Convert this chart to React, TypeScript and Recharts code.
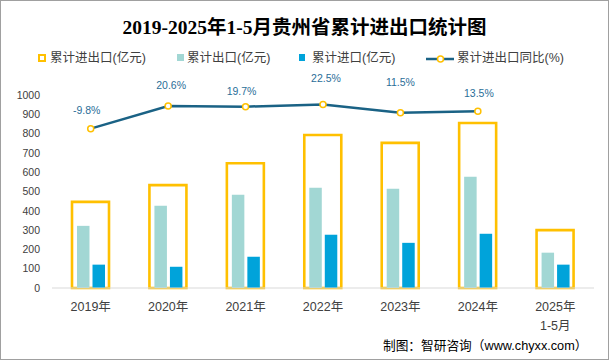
import React from 'react';
import { ComposedChart, Bar, Line, XAxis, YAxis, LabelList } from 'recharts';

const categories = ['2019年', '2020年', '2021年', '2022年', '2023年', '2024年', '2025年\n1-5月'];
const totalValues = [446, 533, 646, 793, 752, 855, 300];
const exportValues = [322, 426, 483, 519, 514, 576, 183];
const importValues = [121, 110, 162, 276, 234, 281, 121];
const yoyValues: (number | null)[] = [-9.8, 20.6, 19.7, 22.5, 11.5, 13.5, null];
const yTicks = [0, 100, 200, 300, 400, 500, 600, 700, 800, 900, 1000];

// label placement tweaks (style only)
const labelDx = [-4, 3, -4, 3, 0, 1, 0];
const labelDy = [-19, -21, -16, -27, -31, -18, 0];

const data = categories.map((c, i) => ({
  category: c,
  total: totalValues[i],
  exp: exportValues[i],
  imp: importValues[i],
  yoy: yoyValues[i],
}));

const FONT = '"Liberation Sans", "Noto Sans CJK SC", sans-serif';
const YELLOW = '#FFC000';
const TEAL = '#A2D7D4';
const BLUE = '#00A3DA';
const LINE = '#1A6285';
const LABEL = '#2A6E98';
const TEXT = '#404040';

const XTick = (props: any) => {
  const { x, payload } = props;
  const lines = String(payload.value).split('\n');
  return (
    <text x={x} y={288} textAnchor="middle" fill={TEXT} fontSize={12.5} fontFamily={FONT}>
      {lines.map((l, i) => (
        <tspan key={i} x={x} dy={i === 0 ? 23 : 19}>
          {l}
        </tspan>
      ))}
    </text>
  );
};

const YoyLabel = (props: any) => {
  const { x, y, value, index } = props;
  if (value === null || value === undefined) return null;
  return (
    <text
      x={x + (labelDx[index] || 0)}
      y={y + (labelDy[index] || 0)}
      textAnchor="middle"
      dominantBaseline="central"
      fill={LABEL}
      fontSize={10.5}
      fontFamily={FONT}
    >
      {`${value}%`}
    </text>
  );
};

const legendText: React.CSSProperties = {
  position: 'absolute',
  top: 49,
  fontSize: 12.5,
  lineHeight: '18px',
  color: TEXT,
  fontFamily: FONT,
  whiteSpace: 'nowrap',
};

export default function App() {
  return (
    <div style={{ position: 'absolute', left: 0, top: 0, width: 609, height: 360, background: '#fff', fontFamily: FONT }}>
      <div
        style={{
          position: 'absolute',
          left: 0,
          top: 17,
          width: 609,
          textAlign: 'center',
          fontSize: 19.5,
          lineHeight: '22px',
          fontWeight: 'bold',
          color: '#000',
          fontFamily: '"Liberation Serif", "Noto Sans CJK SC", serif',
        }}
      >
        2019-2025年1-5月贵州省累计进出口统计图
      </div>

      {/* legend */}
      <div style={{ position: 'absolute', left: 38, top: 54, width: 4, height: 4, border: `2px solid ${YELLOW}`, boxSizing: 'content-box' }} />
      <div style={{ ...legendText, left: 50 }}>累计进出口(亿元)</div>
      <div style={{ position: 'absolute', left: 177, top: 54, width: 7, height: 7, background: TEAL }} />
      <div style={{ ...legendText, left: 187 }}>累计出口(亿元)</div>
      <div style={{ position: 'absolute', left: 299, top: 54, width: 6, height: 7, background: BLUE }} />
      <div style={{ ...legendText, left: 312 }}>累计进口(亿元)</div>
      <svg style={{ position: 'absolute', left: 425, top: 52 }} width={30} height={14}>
        <line x1={1} y1={7} x2={29} y2={7} stroke={LINE} strokeWidth={2.5} />
        <circle cx={15.5} cy={7} r={3} fill="#fff" stroke={YELLOW} strokeWidth={1.5} />
      </svg>
      <div style={{ ...legendText, left: 457 }}>累计进出口同比(%)</div>

      <div style={{ position: 'absolute', left: 0, top: 0 }}>
        <ComposedChart
          width={609}
          height={360}
          data={data}
          margin={{ top: 95, right: 15, bottom: 0, left: 0 }}
          barGap={3}
        >
          <XAxis xAxisId="box" dataKey="category" orientation="top" hide />
          <XAxis
            xAxisId="main"
            dataKey="category"
            height={72}
            tickSize={0}
            tickLine={false}
            axisLine={{ stroke: '#D9D9D9', strokeWidth: 1 }}
            tick={<XTick />}
            interval={0}
          />
          <YAxis yAxisId="box" orientation="right" domain={[0, 1000]} hide />
          <YAxis yAxisId="pct" orientation="right" domain={[-223.4, 35.3]} hide />
          <YAxis
            yAxisId="left"
            width={52}
            domain={[0, 1000]}
            ticks={yTicks}
            axisLine={false}
            tickLine={false}
            tickSize={5}
            tickMargin={7}
            tick={{ fill: TEXT, fontSize: 10.5, fontFamily: FONT }}
            interval={0}
          />
          <Bar
            xAxisId="box"
            yAxisId="box"
            dataKey="total"
            barSize={37}
            fill="none"
            stroke={YELLOW}
            strokeWidth={2.6}
            isAnimationActive={false}
          />
          <Bar xAxisId="main" yAxisId="left" dataKey="exp" barSize={12.5} fill={TEAL} isAnimationActive={false} />
          <Bar xAxisId="main" yAxisId="left" dataKey="imp" barSize={12.5} fill={BLUE} isAnimationActive={false} />
          <Line
            xAxisId="main"
            yAxisId="pct"
            dataKey="yoy"
            stroke={LINE}
            strokeWidth={2.5}
            dot={{ r: 3, fill: '#fff', stroke: YELLOW, strokeWidth: 1.5 }}
            activeDot={false}
            isAnimationActive={false}
          >
            <LabelList dataKey="yoy" content={<YoyLabel />} />
          </Line>
        </ComposedChart>
      </div>

      <div
        style={{
          position: 'absolute',
          left: 383,
          top: 337,
          fontSize: 12.7,
          lineHeight: '18px',
          color: '#000',
          fontFamily: FONT,
          whiteSpace: 'nowrap',
        }}
      >
        制图：智研咨询（www.chyxx.com）
      </div>
      <div style={{ position: 'absolute', left: 0, top: 0, width: 609, height: 360, border: '1px solid #A0A0A0', boxSizing: 'border-box', pointerEvents: 'none' }} />
    </div>
  );
}
